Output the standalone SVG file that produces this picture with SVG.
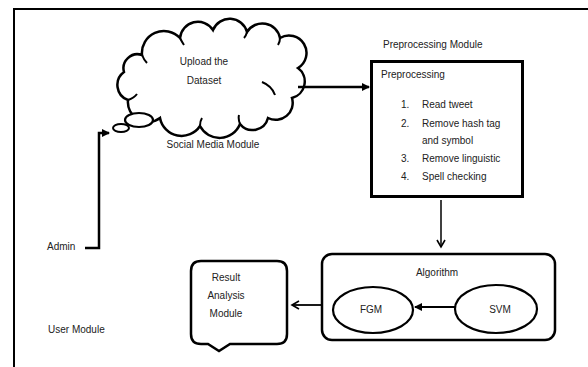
<svg xmlns="http://www.w3.org/2000/svg" width="588" height="367" viewBox="0 0 588 367">
<defs>
<marker id="fill" markerWidth="8" markerHeight="8" refX="7" refY="4" orient="auto" markerUnits="userSpaceOnUse"><path d="M0,0 L8,4 L0,8 Z" fill="#000"/></marker>
<marker id="open" markerWidth="10" markerHeight="10" refX="8" refY="5" orient="auto" markerUnits="userSpaceOnUse"><path d="M1,1 L8,5 L1,9" fill="none" stroke="#000" stroke-width="1.6"/></marker>
</defs>
<style>
text{font-family:"Liberation Sans",Arial,sans-serif;font-size:10px;fill:#222}
.c{text-anchor:middle}
.s{fill:#fff;stroke:#000}
.ln{fill:none;stroke:#000}
</style>
<rect width="588" height="367" fill="#fff"/>
<g id="frame" class="ln" stroke-width="2"><path d="M14,367 L14,9 L588,9"/></g>

<g id="cloud">
<path class="s" stroke-width="2.5" d="M128,100 A16,16 0 0 1 124,72 A14,14 0 0 1 142,55 A22,22 0 0 1 180,38 A18,18 0 0 1 213,30 A18,18 0 0 1 247,32 A18,18 0 0 1 280,38 A17,17 0 0 1 298,68 A17,17 0 0 1 292,98 A17,17 0 0 1 268,118 A16,16 0 0 1 240,124 A22,22 0 0 1 200,126 A22,22 0 0 1 160,118 A20,20 0 0 1 128,100 Z"/>
<path class="ln" stroke-width="2" d="M128,100 Q134,98 137,94 M142,55 Q144,60 147,63 M180,38 Q182,42 184,45 M247,32 Q246,36 244,38 M280,38 Q280,42 278,45 M262,82 Q272,86 275,95 M240,124 Q238,119 239,115 M200,126 Q200,121 202,118"/>
<ellipse class="s" stroke-width="2.2" cx="139" cy="120" rx="14" ry="7"/>
<ellipse class="s" stroke-width="2" cx="121" cy="128" rx="8" ry="4"/>
<text class="c" x="204" y="65">Upload the</text>
<text class="c" x="204" y="84">Dataset</text>
<text class="c" x="213" y="148">Social Media Module</text>
</g>

<g id="admin"><text x="47" y="250">Admin</text></g>
<g id="user"><text x="48" y="333">User Module</text></g>

<g id="preprocessing">
<text x="383" y="48">Preprocessing Module</text>
<rect class="s" stroke-width="3" x="371.5" y="61.5" width="151" height="135"/>
<text x="381" y="78">Preprocessing</text>
<text x="401" y="108">1.</text><text x="422" y="108">Read tweet</text>
<text x="401" y="127">2.</text><text x="422" y="127">Remove hash tag</text>
<text x="422" y="144">and symbol</text>
<text x="401" y="162">3.</text><text x="422" y="162">Remove linguistic</text>
<text x="401" y="180">4.</text><text x="422" y="180">Spell checking</text>
</g>

<g id="algorithm">
<rect class="s" stroke-width="2.5" x="322" y="254" width="233" height="86" rx="10"/>
<text class="c" x="437" y="276">Algorithm</text>
<ellipse class="s" stroke-width="2.2" cx="373" cy="310" rx="40" ry="23"/>
<text class="c" x="371" y="313">FGM</text>
<ellipse class="s" stroke-width="2.2" cx="496" cy="309" rx="41" ry="24"/>
<text class="c" x="500" y="313">SVM</text>
</g>

<g id="result">
<path class="s" stroke-width="2.5" d="M201,261 L277,261 Q287,261 287,271 L287,334 Q287,344 277,344 L230,344 L219,351 L208,344 L201,344 Q191,344 191,334 L191,271 Q191,261 201,261 Z"/>
<text class="c" x="226" y="281">Result</text>
<text class="c" x="226" y="299">Analysis</text>
<text class="c" x="226" y="317">Module</text>
</g>

<g id="connectors" class="ln">
<path stroke-width="2.5" d="M85,248 L99,248 L99,133 L109,133" marker-end="url(#fill)"/>
<path stroke-width="2.5" d="M298,87 L369,87" marker-end="url(#fill)"/>
<path stroke-width="1.5" d="M441,200 L441,247" marker-end="url(#open)"/>
<path stroke-width="1.8" d="M455,307 L415,307" marker-end="url(#fill)"/>
<path stroke-width="1.8" d="M322,305 L292,305" marker-end="url(#open)"/>
</g>
</svg>
